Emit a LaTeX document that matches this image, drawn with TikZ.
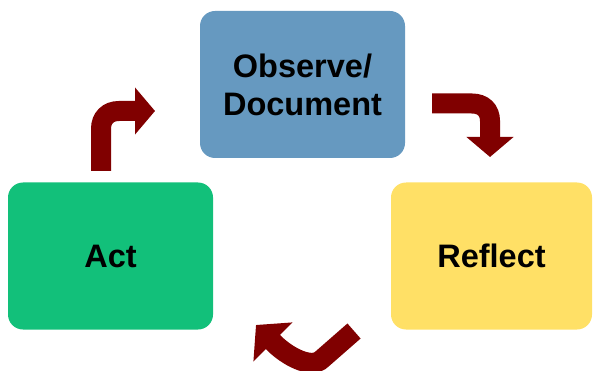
\documentclass[tikz,border=0pt]{standalone}
\usepackage{fontspec}
\setmainfont[Ligatures=NoCommon]{Liberation Sans}
\usetikzlibrary{arrows.meta}
\definecolor{obsblue}{RGB}{102,153,192}
\definecolor{actgreen}{RGB}{18,192,122}
\definecolor{reflyellow}{RGB}{255,224,102}
\definecolor{cyclered}{RGB}{128,0,0}
\tikzset{
  stage/.style={rounded corners=15pt, minimum width=205pt, minimum height=147pt,
    inner sep=0pt, align=center, font=\bfseries\fontsize{32.5}{38}\selectfont},
  bentarrow/.style={draw=cyclered, line width=20pt,
    -{Triangle[width=46pt,length=20pt]}},
  bigtip/.style={-{Triangle[width=54pt,length=24pt]}}
}
\begin{document}
\begin{tikzpicture}[x=1pt,y=-1pt]
\useasboundingbox (0,0) rectangle (593,371);
% the three stages of the cycle
\node[stage, fill=obsblue] (obs) at (302.5,84.5) {Observe/\\Document};
\node[stage, fill=actgreen] (act) at (110.5,256) {Act};
\node[stage, fill=reflyellow, minimum width=201pt] (refl) at (491.5,256) {Reflect};
% anchor points of the bent arrows
\coordinate (a1s) at (101,171);
\coordinate (a1e) at (155,111);
\coordinate (a2s) at (432,103.5);
\coordinate (a2e) at (490,157);
\coordinate (a3s) at (354,331);
\coordinate (a3e) at (256,325);
% Act -> Observe
\draw[bentarrow] (a1s) -- (101,129) .. controls (101,118) and (108,111) .. (119,111) -- (a1e);
% Observe -> Reflect
\draw[bentarrow] (a2s) -- (472,103.5) .. controls (483,103.5) and (490,110) .. (490,121) -- (a2e);
% Reflect -> Act
\draw[bentarrow, bigtip] (a3s) -- (322,359) .. controls (311,370) and (286,355) .. (275,344) -- (a3e);
\end{tikzpicture}
\end{document}
